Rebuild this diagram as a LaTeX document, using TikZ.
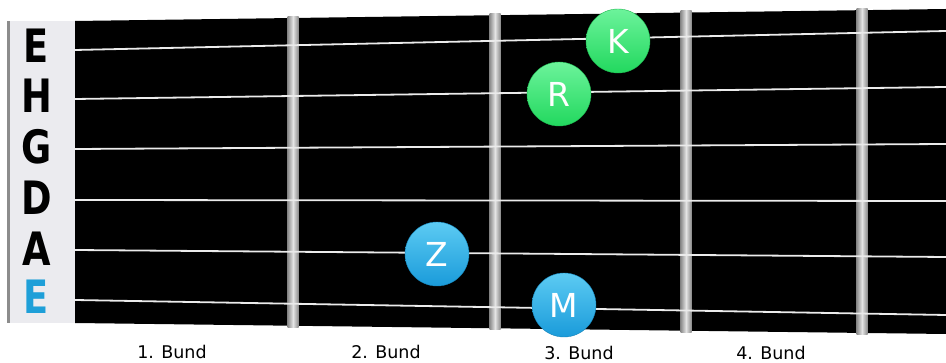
\documentclass[tikz,border=0pt]{standalone}
\usepackage{fontspec}
\setmainfont{DejaVu Sans}
\definecolor{panel}{HTML}{EBEBEF}
\definecolor{paneledge}{HTML}{8C8C8C}
\definecolor{lowE}{HTML}{1E9FD8}
\definecolor{greentop}{HTML}{6CF39B}
\definecolor{greenbot}{HTML}{22D85E}
\definecolor{bluetop}{HTML}{5CCBF3}
\definecolor{bluebot}{HTML}{1A9BDA}
\definecolor{fretdark}{HTML}{8A8A8A}
\definecolor{fretlight}{HTML}{E4E4E4}
\tikzset{
  stringline/.style={draw=white!92!black, line width=1.8pt},
  fretbar/.style={left color=fretdark, right color=fretdark, middle color=fretlight},
  letterlbl/.style={font=\fontsize{46}{46}\selectfont\bfseries, inner sep=0pt},
  bundlbl/.style={font=\fontsize{17.5}{17.5}\selectfont, inner sep=0pt},
  greendot/.style={circle, minimum size=64pt, inner sep=0pt, top color=greentop, bottom color=greenbot, draw=greenbot!85!black, line width=0.4pt, text=white, font=\fontsize{33}{33}\selectfont},
  bluedot/.style={circle, minimum size=64pt, inner sep=0pt, top color=bluetop, bottom color=bluebot, draw=bluebot!85!black, line width=0.4pt, text=white, font=\fontsize{33}{33}\selectfont}
}
\begin{document}
\begin{tikzpicture}[x=1pt,y=-1pt]
\useasboundingbox[fill=white] (0,0) rectangle (946,363);
% left panel
\fill[panel] (8,21) rectangle (75,323);
\fill[paneledge] (7,21) rectangle (10,323);
% fretboard
\fill[black] (75,21) -- (946,9) -- (946,334) -- (75,323) -- cycle;
% frets
\shade[fretbar] (287.5,16.5) rectangle (298.5,327.5);
\shade[fretbar] (489.5,13.5) rectangle (500.5,330);
\shade[fretbar] (680.5,11) rectangle (691.5,332.5);
\shade[fretbar] (856.5,8.5) rectangle (867.5,334.5);
% strings
\coordinate (l1) at (75,50);  \coordinate (r1) at (946,31);
\coordinate (l2) at (75,99);  \coordinate (r2) at (946,87);
\coordinate (l3) at (75,149); \coordinate (r3) at (946,144);
\coordinate (l4) at (75,200); \coordinate (r4) at (946,201);
\coordinate (l5) at (75,250); \coordinate (r5) at (946,257);
\coordinate (l6) at (75,300); \coordinate (r6) at (946,315);
\foreach \i in {1,...,6} { \draw[stringline] (l\i) -- (r\i); }
% string names
\node[letterlbl] (n1) at (36.5,46) {\scalebox{0.8}[1]{E}};
\node[letterlbl] (n2) at (36.5,96) {\scalebox{0.8}[1]{H}};
\node[letterlbl] (n3) at (36.5,147) {\scalebox{0.8}[1]{G}};
\node[letterlbl] (n4) at (36.5,198) {\scalebox{0.8}[1]{D}};
\node[letterlbl] (n5) at (36.5,249) {\scalebox{0.8}[1]{A}};
\node[letterlbl, text=lowE] (n6) at (36.5,297) {\scalebox{0.8}[1]{E}};
% fingers
\node[greendot] (K) at (618,41) {K};
\node[greendot] (R) at (559,94) {R};
\node[bluedot] (Z) at (437,254) {Z};
\node[bluedot] (M) at (564,305) {M};
% fret labels
\node[bundlbl] (b1) at (172,352) {1. Bund};
\node[bundlbl] (b2) at (386,352) {2. Bund};
\node[bundlbl] (b3) at (579,353) {3. Bund};
\node[bundlbl] (b4) at (771,353) {4. Bund};
\end{tikzpicture}
\end{document}
